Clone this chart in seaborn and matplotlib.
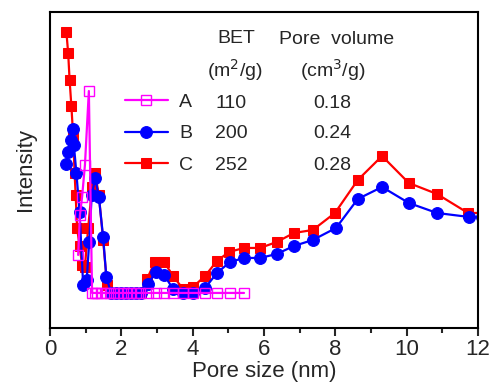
import pandas as pd
import seaborn as sns
import matplotlib.pyplot as plt

# Pore size distribution data (intensity in arbitrary units)
pore_a = [0.79, 0.84, 0.90, 0.98, 1.09, 1.18, 1.25, 1.32, 1.44, 1.56, 1.68, 1.80, 1.92,
          2.04, 2.16, 2.28, 2.40, 2.52, 2.75, 2.97, 3.20, 3.45, 3.73, 4.01, 4.35, 4.68,
          5.05, 5.44]
int_a = [73, 113, 131, 163, 237, 35, 35, 35, 35, 35, 35, 35, 35,
         35, 35, 35, 35, 35, 35, 35, 35, 35, 35, 35, 35, 35,
         35, 35]

pore_b = [0.46, 0.51, 0.60, 0.65, 0.67, 0.74, 0.83, 0.93, 1.03, 1.10, 1.17, 1.27, 1.37,
          1.49, 1.58, 1.71, 1.85, 1.99, 2.13, 2.27, 2.41, 2.55, 2.75, 2.97, 3.20, 3.45,
          3.73, 4.01, 4.35, 4.68, 5.05, 5.44, 5.89, 6.36, 6.84, 7.37, 8.02, 8.63, 9.31,
          10.06, 10.85, 11.75, 12.1]
int_b = [164, 176, 188, 199, 183, 155, 116, 43, 48, 86, 133, 150, 131,
         91, 51, 35, 35, 35, 35, 35, 35, 35, 44, 56, 53, 39,
         35, 35, 40, 55, 66, 70, 70, 74, 82, 88, 100, 129, 141,
         125, 115, 111, 111]

pore_c = [0.46, 0.51, 0.55, 0.60, 0.65, 0.69, 0.72, 0.76, 0.83, 0.90, 0.98, 1.07, 1.18,
          1.26, 1.37, 1.49, 1.60, 1.71, 1.85, 1.99, 2.13, 2.27, 2.41, 2.55, 2.72, 2.94,
          3.20, 3.45, 3.73, 4.01, 4.35, 4.68, 5.02, 5.44, 5.89, 6.36, 6.84, 7.37, 7.99,
          8.63, 9.31, 10.06, 10.85, 11.72, 12.1]
int_c = [296, 275, 248, 222, 192, 155, 133, 100, 82, 63, 61, 100, 141,
         155, 133, 88, 43, 35, 35, 35, 35, 35, 35, 35, 49, 66,
         66, 52, 39, 41, 52, 67, 76, 80, 80, 86, 95, 98, 115,
         148, 172, 145, 134, 115, 115]

samples = ["A", "B", "C"]
bet = ["110", "200", "252"]
pore_volume = ["0.18", "0.24", "0.28"]

df_a = pd.DataFrame({"Pore size": pore_a, "Intensity": int_a})
df_b = pd.DataFrame({"Pore size": pore_b, "Intensity": int_b})
df_c = pd.DataFrame({"Pore size": pore_c, "Intensity": int_c})

sns.set_style("ticks")
plt.rcParams["font.family"] = ["Liberation Sans", "DejaVu Sans"]

fig = plt.figure(figsize=(4.9, 3.89), dpi=100)
ax = fig.add_axes([0.102, 0.157, 0.8735, 0.812])

common = dict(x="Pore size", y="Intensity", sort=False, estimator=None, ax=ax, linewidth=1.6)
sns.lineplot(data=df_c, color="#ff0000", marker="s", markersize=7,
             markeredgecolor="#ff0000", label="C", **common)
sns.lineplot(data=df_b, color="#0000ff", marker="o", markersize=8.5,
             markeredgecolor="#0000ff", label="B", **common)
sns.lineplot(data=df_a, color="#ff00ff", marker="s", markersize=7,
             markerfacecolor="none", markeredgecolor="#ff00ff", markeredgewidth=1.0,
             label="A", **common)

ax.set_xlim(0, 12)
ax.set_ylim(0, 316)
ax.set_xticks(range(0, 13, 2))
ax.set_xticks(range(0, 13, 1), minor=True)
ax.set_yticks([])
ax.tick_params(axis="x", which="major", length=6, width=1.5, labelsize=16, pad=2)
ax.tick_params(axis="x", which="minor", length=3.5, width=1.5)
for sp in ax.spines.values():
    sp.set_linewidth(1.5)
    sp.set_color("black")
ax.set_xlabel("Pore size (nm)", fontsize=16, labelpad=1)
ax.set_ylabel("Intensity", fontsize=16, labelpad=10)

# legend in A, B, C order
handles, labels = ax.get_legend_handles_labels()
order = [labels.index(s) for s in samples]
ax.legend([handles[i] for i in order], [labels[i] for i in order],
          loc="upper left", bbox_to_anchor=(0.175, 0.742), frameon=False,
          fontsize=14, handlelength=2.2, handletextpad=0.6, labelspacing=0.7,
          borderpad=0, borderaxespad=0)

# table of BET and pore volume
fs = 14
ax.text(0.436, 0.915, "BET", transform=ax.transAxes, ha="center", va="center", fontsize=fs)
ax.text(0.432, 0.817, "(m$^2$/g)", transform=ax.transAxes, ha="center", va="center", fontsize=fs)
ax.text(0.670, 0.912, "Pore  volume", transform=ax.transAxes, ha="center", va="center", fontsize=fs)
ax.text(0.661, 0.817, "(cm$^3$/g)", transform=ax.transAxes, ha="center", va="center", fontsize=fs)
row_y = [0.710, 0.615, 0.515]
for y, b, v in zip(row_y, bet, pore_volume):
    ax.text(0.424, y, b, transform=ax.transAxes, ha="center", va="center", fontsize=fs)
    ax.text(0.660, y, v, transform=ax.transAxes, ha="center", va="center", fontsize=fs)

fig.savefig("out.png", dpi=100)
